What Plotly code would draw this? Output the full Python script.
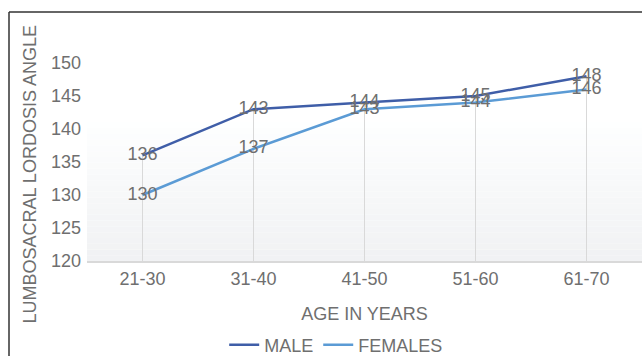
import plotly.graph_objects as go

age_groups = ["21-30", "31-40", "41-50", "51-60", "61-70"]
male = [136, 143, 144, 145, 148]
females = [130, 137, 143, 144, 146]
y_ticks = [120, 125, 130, 135, 140, 145, 150]

TXT = "#6f6f6f"
FONT = "Liberation Sans, Arial, sans-serif"

fig = go.Figure()

# drop lines from the highest point to the axis
dx, dy = [], []
for c, m, f in zip(age_groups, male, females):
    dx += [c, c, None]
    dy += [max(m, f), y_ticks[0], None]
fig.add_trace(go.Scatter(x=dx, y=dy, mode="lines", line=dict(color="#d9d9d9", width=1),
                         hoverinfo="skip", showlegend=False))

fig.add_trace(go.Scatter(x=age_groups, y=male, name="MALE", mode="lines+text",
                         text=[str(v) for v in male], textposition="middle center",
                         textfont=dict(size=18, color=TXT, family=FONT),
                         line=dict(color="#3f5ea8", width=2.5)))
fig.add_trace(go.Scatter(x=age_groups, y=females, name="FEMALES", mode="lines+text",
                         text=[str(v) for v in females], textposition="middle center",
                         textfont=dict(size=18, color=TXT, family=FONT),
                         line=dict(color="#5b9bd5", width=2.5)))

PH = 198.0
PW = 555.0
# gradient plot-area background (style only)
shapes = []
n = 24
top_frac, bot_frac = 0.70, 0.0
for i in range(n):
    t = i / (n - 1)
    y0 = bot_frac + (top_frac - bot_frac) * i / n
    y1 = bot_frac + (top_frac - bot_frac) * (i + 1) / n
    r = int(241 + (254 - 241) * t)
    g = int(242 + (255 - 242) * t)
    b = int(244 + (255 - 244) * t)
    shapes.append(dict(type="rect", xref="paper", yref="paper", x0=0, x1=1, y0=y0, y1=y1,
                       fillcolor=f"rgb({r},{g},{b})", line=dict(width=0), layer="below"))
# outer frame (top and left edges visible)
shapes.append(dict(type="line", xref="paper", yref="paper", x0=-78 / PW, x1=1.01, y0=1 + 51 / PH, y1=1 + 51 / PH,
                   line=dict(color="#333333", width=1.5)))
shapes.append(dict(type="line", xref="paper", yref="paper", x0=-78 / PW, x1=-78 / PW, y0=1 + 51 / PH, y1=-96 / PH,
                   line=dict(color="#333333", width=1.5)))

fig.update_layout(
    width=642, height=356,
    margin=dict(l=87, r=0, t=63, b=95, autoexpand=False),
    paper_bgcolor="white", plot_bgcolor="white",
    font=dict(family=FONT, size=18, color=TXT),
    shapes=shapes,
    showlegend=True,
    legend=dict(orientation="h", x=0.449, xanchor="center", yref="container", y=(356 - 345) / 356,
                yanchor="middle", font=dict(size=18, color=TXT), bgcolor="rgba(0,0,0,0)", itemwidth=30),
    annotations=[dict(text="LUMBOSACRAL LORDOSIS ANGLE", xref="paper", yref="paper",
                      x=(29 - 87) / PW, y=(261 - 174.5) / PH, textangle=-90, showarrow=False,
                      xanchor="center", yanchor="middle", font=dict(size=18, color=TXT, family=FONT))],
    xaxis=dict(type="category", range=[-0.5, 4.5], showgrid=False, zeroline=False, automargin=False,
               showline=True, linecolor="#d9d9d9", linewidth=2, ticks="",
               tickfont=dict(size=18, color=TXT),
               title=dict(text="AGE IN YEARS", font=dict(size=18, color=TXT), standoff=20)),
    yaxis=dict(range=[120, 150], tickvals=y_ticks, showgrid=False, zeroline=False, automargin=False,
               showline=False, ticks="", ticklabelstandoff=5,
               tickfont=dict(size=18, color=TXT)),
)

fig.write_html("out.html")
